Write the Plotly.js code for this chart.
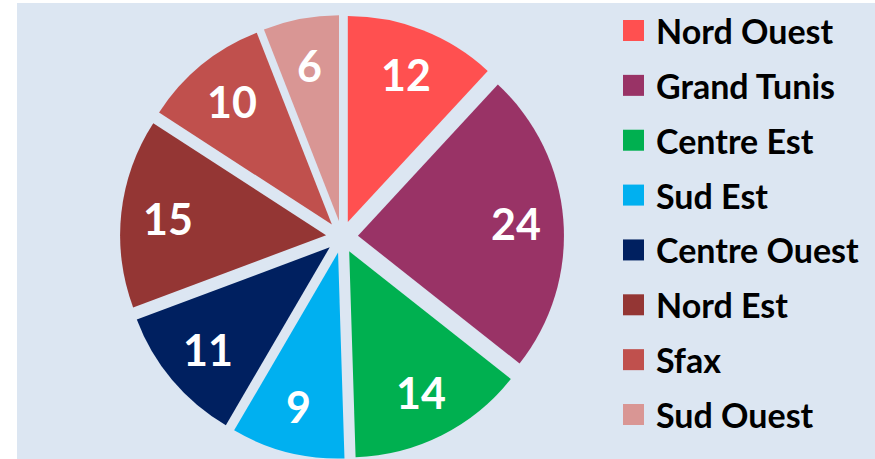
<!DOCTYPE html>
<html><head><meta charset="utf-8">
<script src="https://cdn.plot.ly/plotly-3.0.1.min.js"></script>
<style>html,body{margin:0;padding:0;background:#fff}#chart{width:875px;height:459px}</style>
</head><body><div id="chart"></div>
<script>
const regions = ['Nord Ouest','Grand Tunis','Centre Est','Sud Est','Centre Ouest','Nord Est','Sfax','Sud Ouest'];
const values = [12,24,14,9,11,15,10,6];
const colors = ['#ff5050','#993366','#00b050','#00b0f0','#002060','#943634','#c0504d','#d99694'];

const W = 875, H = 459;
const BG = '#dce6f2';
const FONT = 'Lato, "Open Sans", sans-serif';
const pull = 0.0777;
const dom = {x0: 120, x1: 564, y0: 15, y1: 459};
const px = x => x / W, py = y => 1 - y / H;
const r = Math.min(dom.x1 - dom.x0, dom.y1 - dom.y0) / (2 + 2 * pull);
const cx = (dom.x0 + dom.x1) / 2, cy = (dom.y0 + dom.y1) / 2;
const total = values.reduce((a, b) => a + b, 0);

const annotations = [];
const shapes = [{type: 'rect', xref: 'paper', yref: 'paper', x0: px(17), x1: 1, y0: 0, y1: py(3),
  fillcolor: BG, line: {width: 0}, layer: 'below'}];

let cum = 0;
values.forEach((v, i) => {
  const mid = (cum + v / 2) / total * 2 * Math.PI; cum += v;
  const rad = (pull + 0.77) * r;
  annotations.push({x: px(cx + rad * Math.sin(mid)), y: py(cy - rad * Math.cos(mid)),
    xref: 'paper', yref: 'paper', text: String(v), showarrow: false,
    xanchor: 'center', yanchor: 'middle',
    font: {family: FONT, size: 43, color: '#ffffff', weight: 700}});
});

// legend
const legX = 623, legSq = 21, legY0 = 30.5, legStep = 54.86, legTextX = 654;
regions.forEach((name, i) => {
  const yc = legY0 + i * legStep;
  shapes.push({type: 'rect', xref: 'paper', yref: 'paper', x0: px(legX), x1: px(legX + legSq),
    y0: py(yc + legSq / 2), y1: py(yc - legSq / 2), fillcolor: colors[i], line: {width: 0}});
  annotations.push({x: px(legTextX), y: py(yc), xref: 'paper', yref: 'paper', text: name,
    showarrow: false, xanchor: 'left', yanchor: 'middle',
    font: {family: FONT, size: 34, color: '#000000', weight: 700}});
});

const trace = {
  type: 'pie', values: values, labels: regions, sort: false, direction: 'clockwise', rotation: 0,
  pull: pull, textinfo: 'none', marker: {colors: colors, line: {width: 0}},
  domain: {x: [px(dom.x0), px(dom.x1)], y: [py(dom.y1), py(dom.y0)]}
};

Plotly.newPlot('chart', [trace], {
  width: W, height: H, margin: {l: 0, r: 0, t: 0, b: 0},
  paper_bgcolor: '#ffffff', showlegend: false,
  shapes: shapes, annotations: annotations
}, {displayModeBar: false, staticPlot: true});
</script></body></html>
